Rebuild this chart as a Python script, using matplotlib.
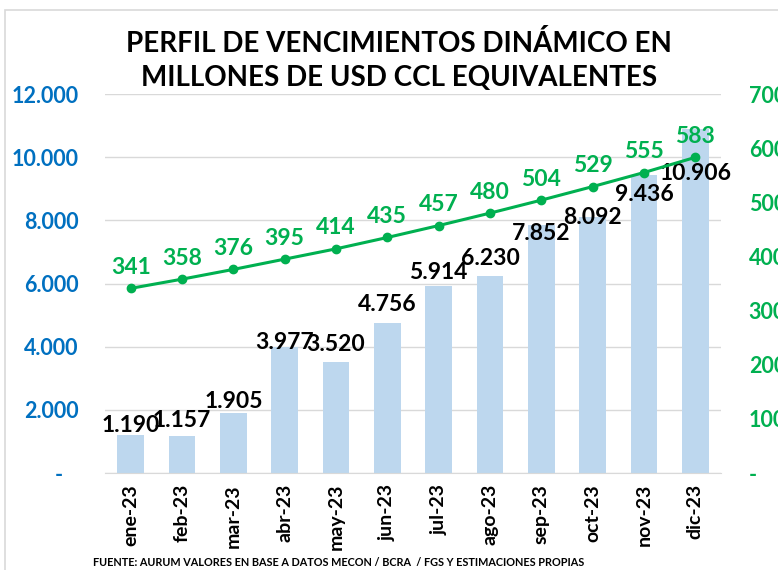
import matplotlib
matplotlib.use("Agg")
import matplotlib.pyplot as plt
from matplotlib.patches import Rectangle
from matplotlib.ticker import FuncFormatter

plt.rcParams['font.family'] = ['Lato', 'DejaVu Sans']
plt.rcParams['font.weight'] = 'bold'

months = ["ene-23", "feb-23", "mar-23", "abr-23", "may-23", "jun-23",
          "jul-23", "ago-23", "sep-23", "oct-23", "nov-23", "dic-23"]
vencimientos = [1190, 1157, 1905, 3977, 3520, 4756, 5914, 6230, 7852, 8092, 9436, 10906]
ccl = [341, 358, 376, 395, 414, 435, 457, 480, 504, 529, 555, 583]

# label offsets (pixels, relative to bar top) - moved by hand in the original
bar_label_dy = [10, 16, 11, 5, 17, 18, 14, 18, -8, 0, -20, -45]

BLUE = "#0070C0"
GREEN = "#00B050"
BAR = "#BDD7EE"

fig = plt.figure(figsize=(7.78, 5.70), dpi=100)
fig.patches.append(Rectangle((5 / 778, -0.1), 1.2, 1 - 10 / 570 + 0.1, transform=fig.transFigure,
                             fill=False, edgecolor="#D9D9D9", linewidth=1.2))

ax = fig.add_axes([105 / 778, 1 - 473 / 570, 616 / 778, 379 / 570])
x = range(len(months))
ax.bar(x, vencimientos, width=0.52, color=BAR, zorder=2)
ax.set_ylim(0, 12000)
ax.set_xlim(-0.5, len(months) - 0.5)
ax.set_yticks(range(0, 12001, 2000))
ax.yaxis.set_major_formatter(FuncFormatter(lambda v, p: "-   " if v == 0 else f"{int(v):,}".replace(",", ".")))
ax.grid(axis="y", color="#D9D9D9", linewidth=1, zorder=0)
for s in ["top", "left", "right"]:
    ax.spines[s].set_visible(False)
ax.spines["bottom"].set_color("#D9D9D9")
ax.tick_params(axis="y", length=0, pad=19, labelcolor=BLUE, labelsize=15.5)
ax.tick_params(axis="x", length=0, pad=8, labelsize=14)
ax.set_xticks(list(x))
ax.set_xticklabels(months, rotation=90, fontweight="bold")
for lab in ax.get_yticklabels():
    lab.set_fontweight("bold")

for i, v in enumerate(vencimientos):
    ax.annotate(f"{v:,}".replace(",", "."), (i, v), xytext=(0, bar_label_dy[i] * 0.72),
                textcoords="offset points", ha="center", va="center",
                fontsize=16.5, fontweight="bold", color="black", zorder=5)

ax2 = ax.twinx()
ax2.plot(list(x), ccl, color=GREEN, linewidth=2.2, marker="o", markersize=6, zorder=4)
ax2.set_ylim(0, 700)
ax2.set_yticks(range(0, 701, 100))
ax2.yaxis.set_major_formatter(FuncFormatter(lambda v, p: "-" if v == 0 else f"{int(v)}"))
for s in ["top", "left", "right", "bottom"]:
    ax2.spines[s].set_visible(False)
ax2.tick_params(axis="y", length=0, pad=20, labelcolor=GREEN, labelsize=15.5)
for lab in ax2.get_yticklabels():
    lab.set_fontweight("bold")
for i, v in enumerate(ccl):
    ax2.annotate(str(v), (i, v), xytext=(0, 21 * 0.72), textcoords="offset points",
                 ha="center", va="center", fontsize=16.5, fontweight="bold", color=GREEN)

fig.text(399 / 778, 1 - 43 / 570, "PERFIL DE VENCIMIENTOS DINÁMICO EN", ha="center", va="center",
         fontsize=20, fontweight="bold")
fig.text(399 / 778, 1 - 78 / 570, "MILLONES DE USD CCL EQUIVALENTES", ha="center", va="center",
         fontsize=20, fontweight="bold")
fig.text(93 / 778, 1 - 563 / 570,
         "FUENTE: AURUM VALORES EN BASE A DATOS MECON / BCRA  / FGS Y ESTIMACIONES PROPIAS",
         ha="left", va="center", fontsize=7.8, fontweight="bold")

fig.savefig("out.png", dpi=100)
